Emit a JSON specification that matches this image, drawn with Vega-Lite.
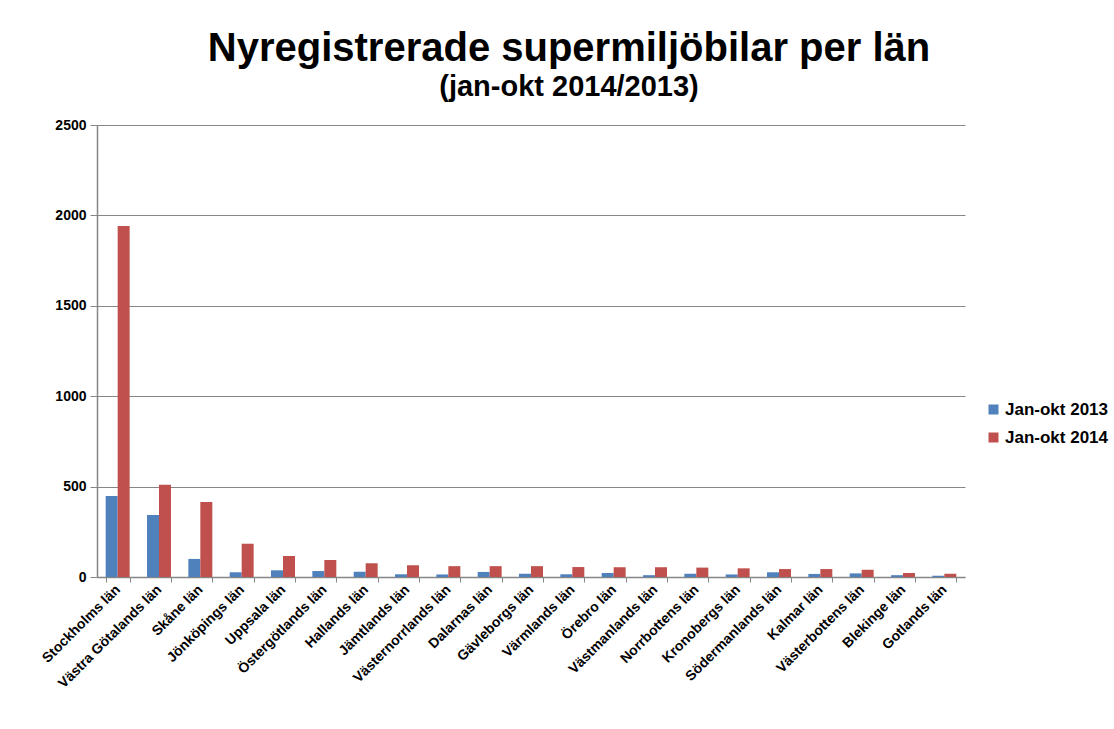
{
  "$schema": "https://vega.github.io/schema/vega-lite/v6.json",
  "autosize": "none",
  "width": 868,
  "height": 452,
  "padding": {"left": 97, "top": 125, "right": 149, "bottom": 152},
  "background": "white",
  "title": {
    "text": "Nyregistrerade supermiljöbilar per län",
    "subtitle": "(jan-okt 2014/2013)",
    "anchor": "middle",
    "dx": 38,
    "offset": 16,
    "font": "Liberation Sans",
    "fontSize": 40,
    "fontWeight": "bold",
    "color": "black",
    "subtitleFont": "Liberation Sans",
    "subtitleFontSize": 29,
    "subtitleFontWeight": "bold",
    "subtitleColor": "black",
    "subtitlePadding": 4
  },
  "data": {
    "values": [
      {"lan": "Stockholms län", "serie": "Jan-okt 2013", "antal": 448},
      {"lan": "Stockholms län", "serie": "Jan-okt 2014", "antal": 1941},
      {"lan": "Västra Götalands län", "serie": "Jan-okt 2013", "antal": 343},
      {"lan": "Västra Götalands län", "serie": "Jan-okt 2014", "antal": 510},
      {"lan": "Skåne län", "serie": "Jan-okt 2013", "antal": 100},
      {"lan": "Skåne län", "serie": "Jan-okt 2014", "antal": 415},
      {"lan": "Jönköpings län", "serie": "Jan-okt 2013", "antal": 26},
      {"lan": "Jönköpings län", "serie": "Jan-okt 2014", "antal": 184},
      {"lan": "Uppsala län", "serie": "Jan-okt 2013", "antal": 37},
      {"lan": "Uppsala län", "serie": "Jan-okt 2014", "antal": 116},
      {"lan": "Östergötlands län", "serie": "Jan-okt 2013", "antal": 33},
      {"lan": "Östergötlands län", "serie": "Jan-okt 2014", "antal": 94},
      {"lan": "Hallands län", "serie": "Jan-okt 2013", "antal": 29},
      {"lan": "Hallands län", "serie": "Jan-okt 2014", "antal": 76},
      {"lan": "Jämtlands län", "serie": "Jan-okt 2013", "antal": 15},
      {"lan": "Jämtlands län", "serie": "Jan-okt 2014", "antal": 65},
      {"lan": "Västernorrlands län", "serie": "Jan-okt 2013", "antal": 14},
      {"lan": "Västernorrlands län", "serie": "Jan-okt 2014", "antal": 60},
      {"lan": "Dalarnas län", "serie": "Jan-okt 2013", "antal": 28},
      {"lan": "Dalarnas län", "serie": "Jan-okt 2014", "antal": 60},
      {"lan": "Gävleborgs län", "serie": "Jan-okt 2013", "antal": 18},
      {"lan": "Gävleborgs län", "serie": "Jan-okt 2014", "antal": 60},
      {"lan": "Värmlands län", "serie": "Jan-okt 2013", "antal": 15},
      {"lan": "Värmlands län", "serie": "Jan-okt 2014", "antal": 55},
      {"lan": "Örebro län", "serie": "Jan-okt 2013", "antal": 22},
      {"lan": "Örebro län", "serie": "Jan-okt 2014", "antal": 54},
      {"lan": "Västmanlands län", "serie": "Jan-okt 2013", "antal": 10},
      {"lan": "Västmanlands län", "serie": "Jan-okt 2014", "antal": 54},
      {"lan": "Norrbottens län", "serie": "Jan-okt 2013", "antal": 18},
      {"lan": "Norrbottens län", "serie": "Jan-okt 2014", "antal": 52},
      {"lan": "Kronobergs län", "serie": "Jan-okt 2013", "antal": 14},
      {"lan": "Kronobergs län", "serie": "Jan-okt 2014", "antal": 48},
      {"lan": "Södermanlands län", "serie": "Jan-okt 2013", "antal": 26},
      {"lan": "Södermanlands län", "serie": "Jan-okt 2014", "antal": 44},
      {"lan": "Kalmar län", "serie": "Jan-okt 2013", "antal": 17},
      {"lan": "Kalmar län", "serie": "Jan-okt 2014", "antal": 44},
      {"lan": "Västerbottens län", "serie": "Jan-okt 2013", "antal": 20},
      {"lan": "Västerbottens län", "serie": "Jan-okt 2014", "antal": 40},
      {"lan": "Blekinge län", "serie": "Jan-okt 2013", "antal": 10},
      {"lan": "Blekinge län", "serie": "Jan-okt 2014", "antal": 22},
      {"lan": "Gotlands län", "serie": "Jan-okt 2013", "antal": 7},
      {"lan": "Gotlands län", "serie": "Jan-okt 2014", "antal": 18}
    ]
  },
  "mark": {"type": "bar"},
  "encoding": {
    "x": {
      "field": "lan",
      "type": "nominal",
      "sort": null,
      "scale": {"paddingInner": 0.42, "paddingOuter": 0.21},
      "axis": {
        "title": null,
        "labelAngle": -45,
        "labelAlign": "right",
        "labelBaseline": "middle",
        "labelFont": "Liberation Sans",
        "labelFontSize": 14,
        "labelFontWeight": "bold",
        "labelColor": "black",
        "labelPadding": 5,
        "tickBand": "extent",
        "ticks": true,
        "tickSize": 5,
        "tickColor": "#868686",
        "domainColor": "#868686",
        "domainWidth": 1.5,
        "grid": false
      }
    },
    "xOffset": {"field": "serie", "type": "nominal"},
    "y": {
      "field": "antal",
      "type": "quantitative",
      "scale": {"domain": [0, 2500]},
      "axis": {
        "title": null,
        "format": "d",
        "values": [0, 500, 1000, 1500, 2000, 2500],
        "labelFont": "Liberation Sans",
        "labelFontSize": 14,
        "labelFontWeight": "bold",
        "labelColor": "black",
        "labelPadding": 4,
        "tickSize": 7,
        "tickColor": "#868686",
        "domainColor": "#868686",
        "domainWidth": 1.5,
        "grid": true,
        "gridColor": "#868686",
        "gridWidth": 1
      }
    },
    "color": {
      "field": "serie",
      "type": "nominal",
      "scale": {"domain": ["Jan-okt 2013", "Jan-okt 2014"], "range": ["#4F81BD", "#C0504D"]},
      "legend": {
        "title": null,
        "orient": "none",
        "legendX": 888,
        "legendY": 276,
        "symbolType": "square",
        "symbolSize": 100,
        "symbolStrokeWidth": 0,
        "labelFont": "Liberation Sans",
        "labelFontSize": 17,
        "labelFontWeight": "bold",
        "labelColor": "black",
        "labelOffset": 3,
        "rowPadding": 10
      }
    }
  },
  "config": {"view": {"stroke": null}}
}
